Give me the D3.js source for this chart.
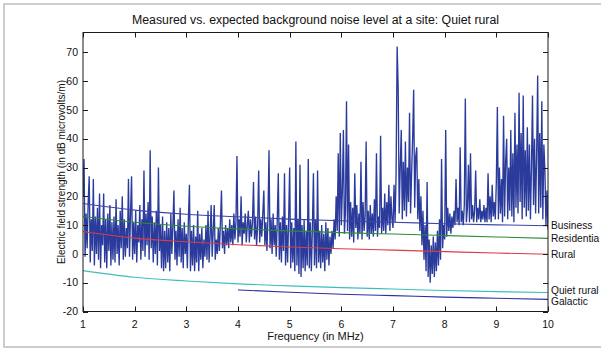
<!DOCTYPE html>
<html>
<head>
<meta charset="utf-8">
<script src="https://cdn.jsdelivr.net/npm/d3@7"></script>
<style>
  html, body { margin: 0; padding: 0; background: #fff; }
  svg { display: block; }
  text { font-family: "Liberation Sans", Arial, Helvetica, sans-serif; fill: #111; }
</style>
</head>
<body>
<svg id="chart" width="601" height="349"></svg>
<script>
// ---- chart text ----
const titleText = "Measured vs. expected background noise level at a site: Quiet rural";
const xLabelText = "Frequency (in MHz)";
const yLabelText = "Electric field strength (in dB microvolts/m)";

// ---- axis ticks ----
const xTicks = [1, 2, 3, 4, 5, 6, 7, 8, 9, 10];
const yTicks = [-20, -10, 0, 10, 20, 30, 40, 50, 60, 70];

// ---- measured sweep (dB µV/m), 1 to 10 MHz in 0.02 MHz steps ----
const sweepStartMHz = 1;
const sweepStepMHz = 0.02;
const measured = [
  20, 33, -1, 14, 2, 18, 27, -3, 12, 1,
  26, -4, 13, 0, 16, -2, 21, -5, 10, 3,
  21, -3, 12, -5, 14, 1, 17, -4, 11, -2,
  13, -3, 19, 0, 10, -4, 15, 2, 20, -2,
  12, -1, 9, 2, 26, -1, 14, 27, -2, 11,
  0, 15, -3, 10, 4, 17, -2, 12, 1, 29,
  -1, 14, 3, 18, -2, 36, 2, 13, -3, 11,
  0, 15, -4, 30, 1, 10, -5, 13, -6, 8,
  -5, 11, -3, 9, -6, 14, 0, 10, 22, -2,
  8, -4, 12, -1, 16, -3, 9, -5, 11, 0,
  7, -5, 12, 24, -6, 8, -4, 10, -6, 6,
  -3, 15, -6, 7, -2, 9, -5, 5, -1, 10,
  -2, 15, -3, 6, 17, -1, 8, 17, -2, 5,
  0, 9, 1, 11, 22, 2, 8, 0, 10, 3,
  9, 2, 12, 4, 10, 3, 14, 5, 11, 34,
  4, 12, 6, 20, 3, 11, 7, 14, 4, 10,
  15, 4, 12, 6, 11, 25, 5, 13, 3, 10,
  29, 4, 12, 6, 14, 22, 3, 11, 1, 13,
  36, 2, 12, 0, 14, 3, 10, -1, 12, 28,
  -2, 11, -3, 13, 1, 28, -4, 10, -3, 12,
  30, -5, 11, -3, 9, -6, 39, -4, 12, -7,
  31, -8, 10, -5, 12, -6, 8, -4, 33, -5,
  11, -6, 9, 28, -4, 12, -5, 29, -3, 8,
  -5, 10, -3, 7, -6, 11, -2, 9, -4, 6,
  0, 8, 2, 12, 5, 20, 8, 35, 6, 42,
  10, 22, 43, 7, 15, 53, 8, 38, 5, 18,
  6, 16, 4, 28, 9, 17, 5, 14, 7, 32,
  5, 18, 8, 13, 39, 6, 15, 5, 17, 7,
  14, 6, 19, 8, 35, 6, 13, 9, 41, 7,
  16, 8, 21, 7, 18, 10, 24, 8, 20, 12,
  9, 24, 11, 28, 72, 58, 14, 30, 43, 12,
  32, 15, 39, 13, 30, 18, 49, 14, 28, 40,
  57, 16, 34, 37, 12, 26, 8, 20, 3, 15,
  -2, 10, -6, 25, -8, 5, -10, 3, -7, 6,
  -8, 4, -6, 8, -4, 12, -2, 33, 2, 10,
  5, 43, 6, 16, 8, 14, 7, 13, 9, 15,
  10, 26, 11, 16, 10, 37, 11, 15, 10, 17,
  54, 11, 16, 31, 11, 35, 12, 17, 11, 15,
  29, 11, 16, 12, 19, 11, 15, 12, 17, 11,
  16, 11, 28, 12, 20, 11, 24, 13, 18, 12,
  25, 51, 12, 30, 14, 26, 11, 48, 13, 32,
  40, 12, 30, 15, 43, 13, 35, 11, 49, 16,
  38, 14, 56, 18, 42, 12, 55, 16, 36, 13,
  44, 15, 38, 12, 30, 55, 17, 40, 14, 35,
  62, 14, 42, 16, 53, 12, 38, 29, 10, 22,
  8.5
];

// ---- expected noise levels (dB µV/m) by environment ----
const noiseFreqs   = [1, 2, 3, 4, 5, 6, 7, 8, 9, 10];
const business     = [17.5, 15.2, 13.8, 12.9, 12.1, 11.5, 11.0, 10.5, 10.1, 9.8];
const residential  = [13.0, 11.0, 9.6, 8.7, 8.0, 7.4, 6.9, 6.4, 5.9, 5.4];
const rural        = [7.8, 5.5, 4.2, 3.2, 2.4, 1.8, 1.3, 0.8, 0.3, -0.1];
const quietRural   = [-5.8, -8.1, -9.4, -10.4, -11.1, -11.7, -12.2, -12.7, -13.1, -13.4];
const galacticFreqs = [4, 5, 6, 7, 8, 9, 10];
const galactic     = [-12.5, -13.3, -14.0, -14.5, -15.0, -15.4, -15.8];

// end-of-curve labels (the right margin only has room for "Residentia")
const curveNames = ["Business", "Residentia", "Rural", "Quiet rural", "Galactic"];

// ---- layout ----
const svg = d3.select("#chart");
const plot = { left: 83, right: 548, top: 32.5, bottom: 311.5 };

const x = d3.scaleLinear().domain([1, 10]).range([plot.left, plot.right]);
const y = d3.scaleLinear().domain([-20, 76.9]).range([plot.bottom, plot.top]);

// figure frame
svg.append("rect")
  .attr("x", 4).attr("y", 4).attr("width", 600).attr("height", 343)
  .attr("fill", "none").attr("stroke", "#cdcdcd").attr("stroke-width", 2);

svg.append("defs").append("clipPath").attr("id", "plotClip")
  .append("rect")
  .attr("x", plot.left).attr("y", plot.top)
  .attr("width", plot.right - plot.left).attr("height", plot.bottom - plot.top);

// measured trace
const sweep = measured.map((v, i) => ({ f: sweepStartMHz + i * sweepStepMHz, v }));
const traceLine = d3.line().x(d => x(d.f)).y(d => y(d.v));
svg.append("path")
  .datum(sweep)
  .attr("clip-path", "url(#plotClip)")
  .attr("d", traceLine)
  .attr("fill", "none")
  .attr("stroke", "#2a3b9c")
  .attr("stroke-width", 1.35)
  .attr("stroke-linejoin", "bevel");

// expected noise curves; the two lowest labels are nudged apart so they stay legible
const curves = [
  { name: curveNames[0], f: noiseFreqs, v: business, color: "#3d44aa", dy: 0 },
  { name: curveNames[1], f: noiseFreqs, v: residential, color: "#2e8a3a", dy: 0 },
  { name: curveNames[2], f: noiseFreqs, v: rural, color: "#d53f48", dy: 0 },
  { name: curveNames[3], f: noiseFreqs, v: quietRural, color: "#3ebdbd", dy: -2.5 },
  { name: curveNames[4], f: galacticFreqs, v: galactic, color: "#3030a0", dy: 2 }
];
const curveLine = d3.line().x(d => x(d[0])).y(d => y(d[1])).curve(d3.curveMonotoneX);
curves.forEach(c => {
  const pts = c.f.map((f, i) => [f, c.v[i]]);
  svg.append("path")
    .datum(pts)
    .attr("d", curveLine)
    .attr("fill", "none")
    .attr("stroke", c.color)
    .attr("stroke-width", 1.1);
});

// axes box with inward ticks on all four sides
const axisColor = "#1a1a1a";
const tickLen = 5;
const g = svg.append("g");
g.append("rect")
  .attr("x", plot.left).attr("y", plot.top)
  .attr("width", plot.right - plot.left).attr("height", plot.bottom - plot.top)
  .attr("fill", "none").attr("stroke", axisColor).attr("stroke-width", 1);

xTicks.forEach(t => {
  const px = Math.round(x(t)) + 0.5;
  g.append("line").attr("x1", px).attr("x2", px)
    .attr("y1", plot.bottom).attr("y2", plot.bottom - tickLen).attr("stroke", axisColor);
  g.append("line").attr("x1", px).attr("x2", px)
    .attr("y1", plot.top).attr("y2", plot.top + tickLen).attr("stroke", axisColor);
  g.append("text")
    .attr("x", x(t)).attr("y", plot.bottom + 16)
    .attr("text-anchor", "middle").attr("font-size", 10.5)
    .text(t);
});

yTicks.forEach(t => {
  const py = Math.round(y(t)) + 0.5;
  g.append("line").attr("x1", plot.left).attr("x2", plot.left + tickLen)
    .attr("y1", py).attr("y2", py).attr("stroke", axisColor);
  g.append("line").attr("x1", plot.right).attr("x2", plot.right - tickLen)
    .attr("y1", py).attr("y2", py).attr("stroke", axisColor);
  g.append("text")
    .attr("x", plot.left - 5).attr("y", y(t))
    .attr("dy", "0.35em")
    .attr("text-anchor", "end").attr("font-size", 10.5)
    .text(t);
});

// curve labels at the right-hand ends
curves.forEach(c => {
  svg.append("text")
    .attr("x", plot.right + 3)
    .attr("y", y(c.v[c.v.length - 1]) + c.dy)
    .attr("dy", "0.35em")
    .attr("font-size", 10.2)
    .text(c.name);
});

// titles
svg.append("text")
  .attr("x", (plot.left + plot.right) / 2).attr("y", 23.5)
  .attr("text-anchor", "middle").attr("font-size", 12.3)
  .text(titleText);

svg.append("text")
  .attr("x", (plot.left + plot.right) / 2).attr("y", 340)
  .attr("text-anchor", "middle").attr("font-size", 11)
  .text(xLabelText);

svg.append("text")
  .attr("transform", `translate(65,${(plot.top + plot.bottom) / 2}) rotate(-90)`)
  .attr("text-anchor", "middle").attr("font-size", 10)
  .text(yLabelText);
</script>
</body>
</html>
